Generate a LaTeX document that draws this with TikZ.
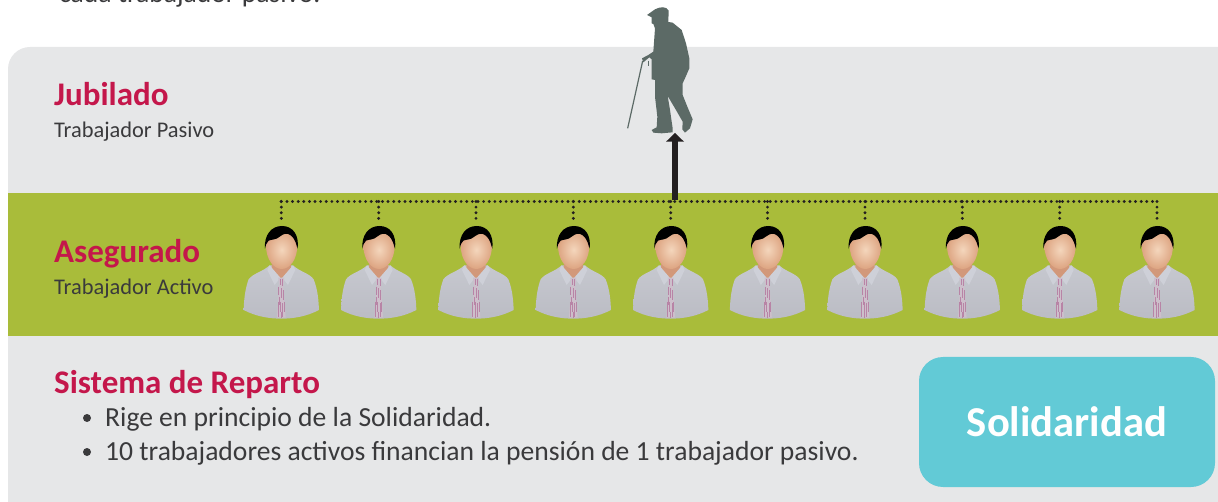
\documentclass[tikz,border=0pt]{standalone}
\usepackage{fontspec}
\setmainfont{Carlito}
\definecolor{panelgray}{HTML}{E6E7E8}
\definecolor{panelgreen}{HTML}{A9BC3A}
\definecolor{headred}{HTML}{C4174B}
\definecolor{bodyink}{HTML}{3A3A3C}
\definecolor{tealbox}{HTML}{62CAD6}
\definecolor{silhouette}{HTML}{5C6A66}
\definecolor{arrowink}{HTML}{231F20}
\definecolor{shirttop}{HTML}{C6C8CF}
\definecolor{shirtbot}{HTML}{BBBCC4}
\definecolor{neckc}{HTML}{D2987A}
\definecolor{collarc}{HTML}{CED0D8}
\definecolor{tiec}{HTML}{CDBFCB}
\definecolor{tiedash}{HTML}{B884A6}
\definecolor{facein}{HTML}{F4D6BC}
\definecolor{faceout}{HTML}{DDA481}
\tikzset{
  x=1pt,y=-1pt,
  heading/.style={anchor=base west,inner sep=0pt,text=headred,font=\bfseries\fontsize{33}{35}\selectfont},
  subhead/.style={anchor=base west,inner sep=0pt,text=bodyink,font=\fontsize{22.4}{24}\selectfont},
  bullettext/.style={anchor=base west,inner sep=0pt,text=bodyink,font=\fontsize{27.6}{29}\selectfont},
  dotline/.style={draw=arrowink,line width=3.2pt,line cap=round,dash pattern=on 0pt off 5.62pt},
  worker/.pic={
    \begin{scope}[x=0.3333pt,y=-0.3333pt]
      \shade[top color=shirttop,bottom color=shirtbot,draw=none]
        (-35,226) .. controls (-55,245) and (-85,250) .. (-98,268)
        .. controls (-110,300) and (-112,335) .. (-113,360)
        .. controls (-75,380) and (-35,386) .. (0,386)
        .. controls (35,386) and (75,380) .. (113,360)
        .. controls (112,335) and (110,300) .. (97,268)
        .. controls (85,250) and (55,245) .. (35,226) -- cycle;
      \fill[neckc] (-27,195) -- (27,195) -- (29,235) -- (0,268) -- (-29,235) -- cycle;
      \fill[collarc] (-35,226) -- (-3,263) -- (-20,285) -- (-42,240) -- cycle;
      \fill[collarc] (35,226) -- (3,263) -- (20,285) -- (42,240) -- cycle;
      \fill[tiec] (-9,263) -- (9,263) -- (6,285) -- (13,383) -- (-13,383) -- (-6,285) -- cycle;
      \foreach \tx/\ta/\tb in {-8/290/315,-3/268/285,4/268/288,0/295/325,6/300/330,-6/320/345,-10/335/380,-3/335/365,4/340/380,9/335/365,-1/365/383}
        \draw[tiedash,line width=0.6pt] (\tx,\ta) -- (\tx,\tb);
      \shade[inner color=facein,outer color=faceout,draw=none]
        (-46,165) .. controls (-46,130) and (-20,122) .. (1,122)
        .. controls (30,122) and (48,135) .. (48,165)
        .. controls (48,210) and (25,237) .. (1,237)
        .. controls (-22,237) and (-46,210) .. (-46,165) -- cycle;
      \fill[black]
        (-49,176) .. controls (-52,135) and (-30,108) .. (2,108)
        .. controls (35,108) and (54,135) .. (49,176)
        .. controls (44,165) and (45,150) .. (28,136)
        .. controls (18,128) and (8,130) .. (-5,140)
        .. controls (-15,150) and (-30,148) .. (-38,152)
        .. controls (-45,158) and (-46,165) .. (-49,176) -- cycle;
    \end{scope}
  }
}
\begin{document}
\begin{tikzpicture}
\useasboundingbox (0,0) rectangle (1218,502);
\begin{scope}
  \clip (0,0) rectangle (1218,502);
  \node[anchor=base west,inner sep=0pt,text=bodyink,font=\fontsize{27.6}{29}\selectfont] (intro) at (59,3) {cada trabajador pasivo.};
  % panels
  \fill[panelgray] (8,502) [rounded corners=22pt] -- (8,47) [sharp corners] -- (1218,47) -- (1218,502) -- cycle;
  \fill[panelgreen] (8,193) rectangle (1218,336);
\end{scope}
% texts
\node[heading] (jub) at (54,106) {Jubilado};
\node[subhead] (pas) at (54,138) {Trabajador Pasivo};
\node[heading] (ase) at (54,263) {Asegurado};
\node[subhead] (act) at (54,295) {Trabajador Activo};
\node[heading] (sis) at (54,394) {Sistema de Reparto};
\node[circle,fill=bodyink,inner sep=0pt,minimum size=8pt] (b1) at (87,418) {};
\node[circle,fill=bodyink,inner sep=0pt,minimum size=8pt] (b2) at (87,452) {};
\node[bullettext] (t1) at (105,426) {Rige en principio de la Solidaridad.};
\node[bullettext] (t2) at (105,460) {10 trabajadores activos financian la pensión de 1 trabajador pasivo.};
\node[fill=tealbox,rounded corners=24pt,minimum width=296pt,minimum height=130pt,inner sep=0pt,text=white,font=\bfseries\fontsize{42.6}{44}\selectfont] (sol) at (1067,422) {Solidaridad};
% workers
\foreach \i/\xx in {1/281.3,2/378.7,3/476,4/573.3,5/670.7,6/767.5,7/865,8/962.3,9/1059.7,10/1157}{
  \pic at (\xx,190) {worker};
  \coordinate (top\i) at (\xx,201.5);
  \coordinate (c\i) at (\xx,219);
}
\draw[dotline] (top1) -- (top10);
\foreach \i in {1,...,10}{ \draw[dotline] (top\i) -- (c\i); }
% retiree
\begin{scope}[shift={(600,0)},x=0.3333pt,y=-0.3333pt]
  \draw[silhouette,line width=1.2pt] (83,385) -- (128,183);
  \draw[silhouette,line width=1.2pt] (146,182) -- (146,197);
  \fill[silhouette]
    (141,45) -- (165,28) .. controls (180,20) and (200,18) .. (206,32)
    -- (205,66) -- (218,68) -- (245,90) -- (258,130) -- (268,175) -- (268,205)
    -- (255,235) -- (248,250) -- (248,285) -- (262,320) -- (278,358) -- (270,385)
    -- (255,398) -- (247,388) -- (248,365) -- (225,325) -- (203,288) -- (210,330)
    -- (218,385) -- (218,397) -- (185,400) -- (160,398) -- (155,390) -- (170,382)
    -- (172,350) -- (165,290) -- (165,240) -- (155,238) -- (155,178) -- (148,172)
    -- (130,187) -- (126,175) -- (145,165) -- (160,155) -- (165,85) -- (160,72)
    -- (155,70) -- (155,52) -- cycle;
\end{scope}
\coordinate (man) at (675,133);
\coordinate (busarrow) at (675,200);
\coordinate (neck) at (675,141.5);
\draw[arrowink,line width=5.3pt] (busarrow) -- (neck);
\fill[arrowink] (man) -- (684,141.7) -- (666,141.7) -- cycle;
\end{tikzpicture}
\end{document}
